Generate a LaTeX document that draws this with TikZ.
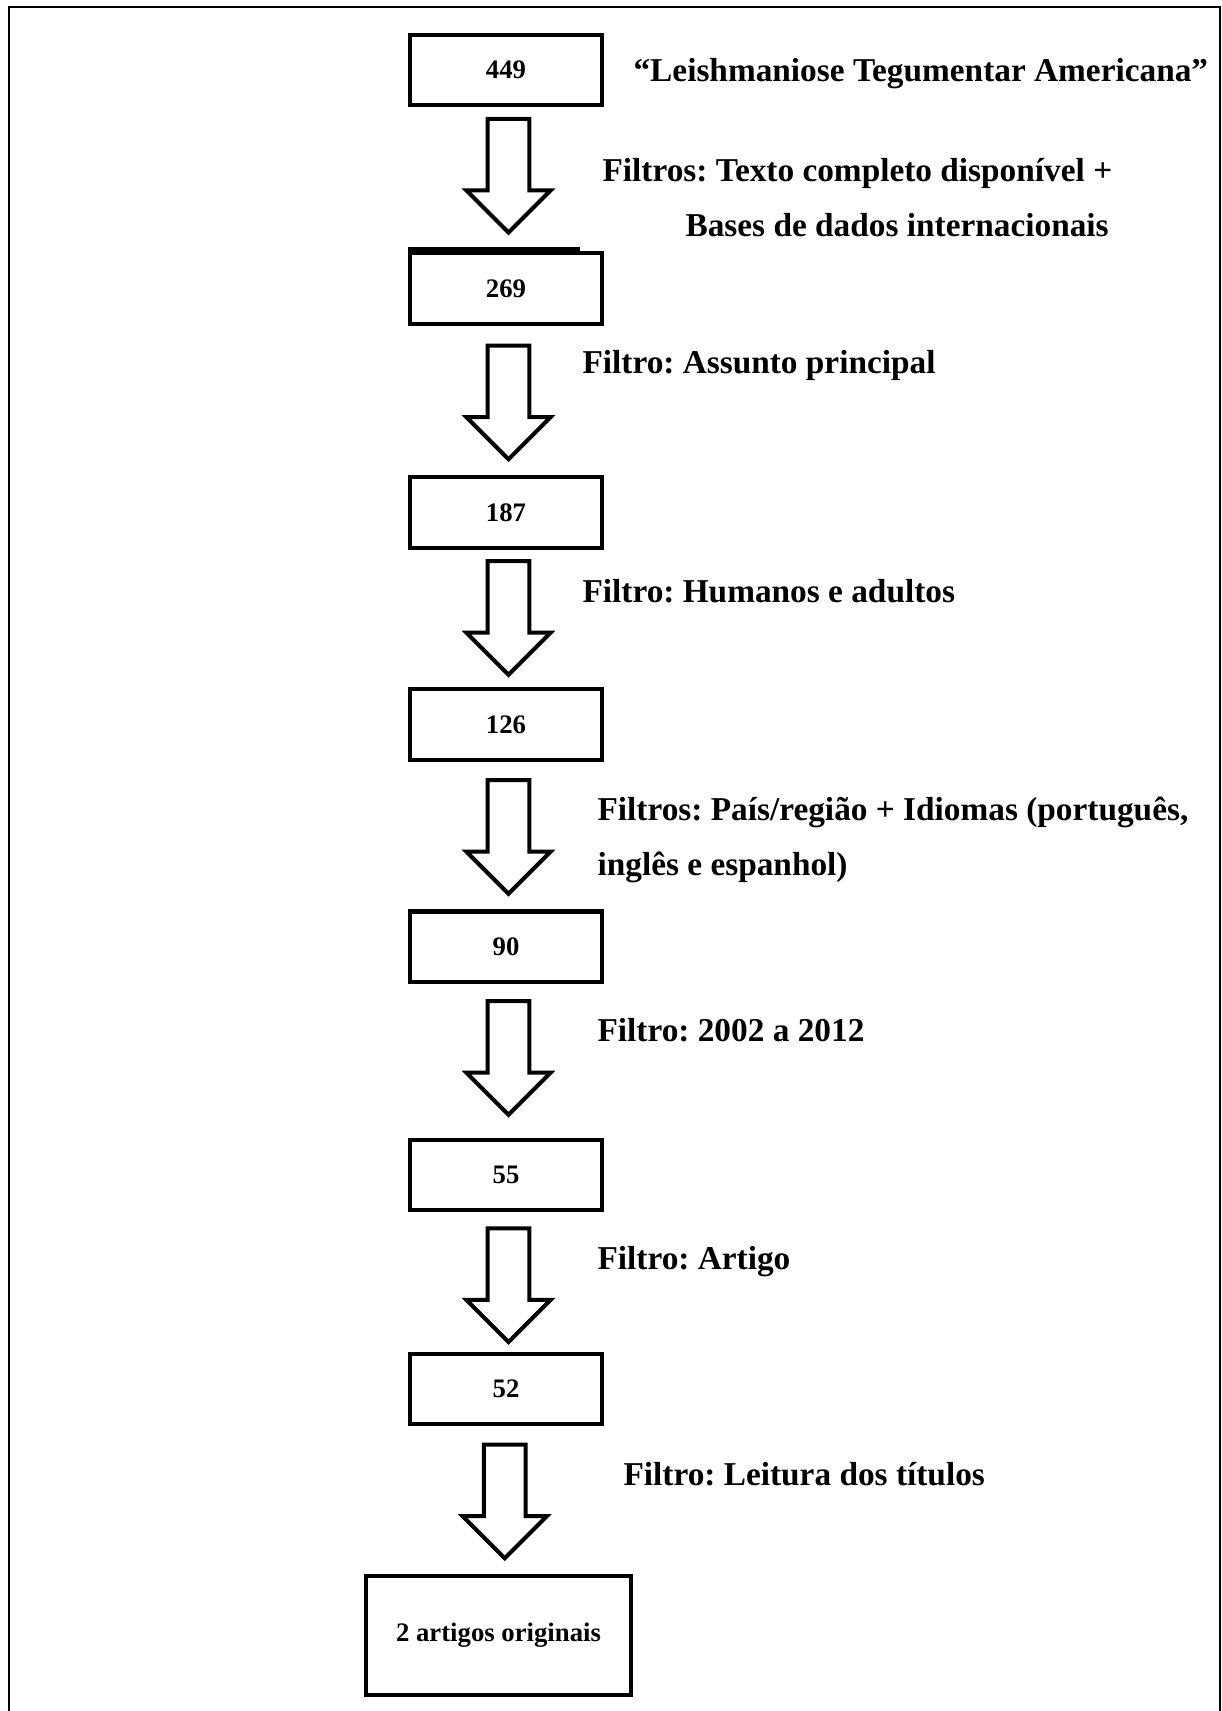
\documentclass[tikz,border=0pt]{standalone}
\usepackage{fontspec}
\setmainfont{Liberation Serif}
\usetikzlibrary{shapes.arrows, positioning, calc}
\frenchspacing

\begin{document}
\begin{tikzpicture}[
    x=0.0125cm, y=-0.0125cm,
    box/.style={draw, rectangle, line width=0.05cm, minimum width=2.4cm,
      minimum height=0.875cm, inner sep=0pt, align=center,
      font=\fontsize{9.5}{11}\selectfont\bfseries},
    endbox/.style={box, minimum width=3.3125cm, minimum height=1.4875cm},
    blockarrow/.style={draw, single arrow, rotate=-90, line width=0.05cm,
      minimum height=1.42cm, inner xsep=0pt, inner ysep=0.235cm,
      single arrow head extend=0.265cm, single arrow tip angle=90},
    lbl/.style={anchor=base west, inner sep=0pt,
      font=\fontsize{11.85}{14}\selectfont\bfseries}
]
\useasboundingbox (0,0) rectangle (1221,1711);
% frame (open at the bottom)
\draw[line width=0.025cm] (9,1711) -- (9,7) -- (1220,7) -- (1220,1711);

\node[box] (n449) at (506,70) {449};
\node[box] (n269) at (506,288.5) {269};
\node[box] (n187) at (506,512.5) {187};
\node[box] (n126) at (506,724.5) {126};
\node[box] (n90) at (506,946.5) {90};
\node[box] (n55) at (506,1174.5) {55};
\node[box] (n52) at (506,1389) {52};
\node[endbox] (final) at (498.5,1635.5) {2 artigos originais};
\draw[line width=0.05cm] ($(n269.north west)+(0,-2)$) -- ++(172,0);

\node[lbl] (query) at (633,82) {“Leishmaniose Tegumentar Americana”};
\node[lbl] (f1a) at (602,182) {Filtros: Texto completo disponível +};
\node[lbl] (f1b) at (685,236) {Bases de dados internacionais};
\node[lbl] (f2) at (582,373) {Filtro: Assunto principal};
\node[lbl] (f3) at (582,602) {Filtro: Humanos e adultos};
\node[lbl] (f4a) at (597,820) {Filtros: País/região + Idiomas (português,};
\node[lbl] (f4b) at (597,875) {inglês e espanhol)};
\node[lbl] (f5) at (597,1041) {Filtro: 2002 a 2012};
\node[lbl] (f6) at (597,1269) {Filtro: Artigo};
\node[lbl] (f7) at (623,1485) {Filtro: Leitura dos títulos};

\node[blockarrow] (a1) at ($(n449.south)!0.5!(n269.north)+(2.5,-14)$) {};
\node[blockarrow] (a2) at ($(n269.south)!0.5!(n187.north)+(2.5,-8.5)$) {};
\node[blockarrow] (a3) at ($(n187.south)!0.5!(n126.north)+(2.5,-11)$) {};
\node[blockarrow] (a4) at ($(n126.south)!0.5!(n90.north)+(2.5,-9)$) {};
\node[blockarrow] (a5) at ($(n90.south)!0.5!(n55.north)+(2.5,-13)$) {};
\node[blockarrow] (a6) at ($(n55.south)!0.5!(n52.north)+(2.5,-7)$) {};
\node[blockarrow] (a7) at ($(n52.south)!0.5!(final.north)+(2.5,-9)$) {};
\end{tikzpicture}
\end{document}
